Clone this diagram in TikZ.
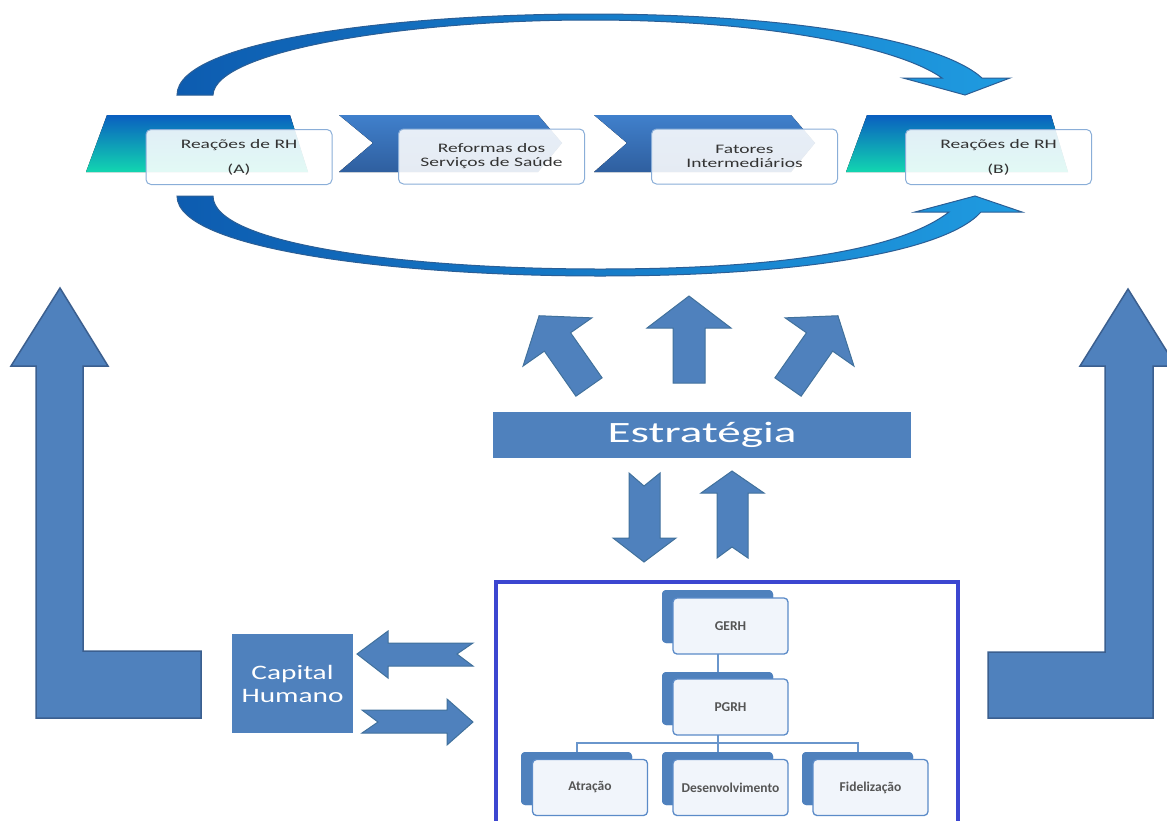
\documentclass[tikz,border=0pt]{standalone}
\usepackage{fontspec}
\setmainfont{Carlito}
\newfontfamily\topfont[FakeStretch=1.5]{Carlito}
\newfontfamily\estfont[FakeStretch=1.6]{Carlito}
\newfontfamily\capfont[FakeStretch=1.43]{Carlito}
\definecolor{mainblue}{HTML}{4F81BD}
\definecolor{edgeblue}{HTML}{3B5F8F}
\definecolor{smalledge}{HTML}{41719C}
\definecolor{boxedge}{HTML}{8AAED8}
\definecolor{orgedge}{HTML}{5B8BC8}
\definecolor{framecol}{HTML}{3C46D0}
\definecolor{textgray}{HTML}{333333}
\definecolor{orgtext}{HTML}{555555}
\definecolor{trapT}{HTML}{0A5FC0}
\definecolor{trapM}{HTML}{1E9FDF}
\definecolor{trapB}{HTML}{12D6B0}
\definecolor{chevT}{HTML}{4080CC}
\definecolor{chevB}{HTML}{2F5F9F}
\definecolor{curveL}{HTML}{0D5CB0}
\definecolor{curveR}{HTML}{1F9BE0}
\definecolor{curveedge}{HTML}{2B5E95}
\definecolor{orgfill}{HTML}{F1F5FB}
\definecolor{connblue}{HTML}{6A96CC}
\tikzset{
  bigarrow/.style={fill=mainblue, draw=edgeblue, line width=1.5pt, line join=miter},
  smallarrow/.style={fill=mainblue, draw=smalledge, line width=1pt, line join=miter},
  trapshape/.style={top color=trapT, middle color=trapM, bottom color=trapB},
  chevshape/.style={top color=chevT, bottom color=chevB},
  curvearrow/.style={left color=curveL, right color=curveR, draw=curveedge, line width=1pt},
  topbox/.style={draw=boxedge, line width=1pt, fill=white, fill opacity=0.88, text opacity=1,
     rounded corners=5pt, minimum width=186pt, minimum height=55pt, inner sep=0pt,
     align=center, text=textgray, font=\topfont\fontsize{13}{14}\selectfont},
  bluebar/.style={fill=mainblue, inner sep=0pt, text=white},
  backbox/.style={fill=mainblue, rounded corners=4pt, minimum width=111pt, minimum height=53pt, inner sep=0pt},
  frontbox/.style={fill=orgfill, draw=orgedge, line width=1.3pt, rounded corners=4pt,
     minimum width=115pt, minimum height=56pt, inner sep=0pt, text=orgtext,
     font=\bfseries\fontsize{13.5}{15}\selectfont},
  conn/.style={draw=connblue, line width=2pt},
  uparrow/.pic={\draw[smallarrow] (-16,0) -- (-16,-55) -- (-42,-55) -- (0,-87) -- (42,-55) -- (16,-55) -- (16,0) -- cycle;}
}
\begin{document}
\begin{tikzpicture}[x=1pt,y=-1pt]
\useasboundingbox (0,0) rectangle (1167,820);
\clip (0,0) rectangle (1167,820);

% curved arrows
\path[curvearrow] (177,95) .. controls (177,40) and (400,14) .. (590,14)
  .. controls (790,14) and (940,40) .. (982,78)
  -- (1010,78) -- (965,95) -- (903,78) -- (942,78)
  .. controls (900,48) and (770,20) .. (590,20)
  .. controls (410,20) and (215,50) .. (213,95) -- cycle;
\path[curvearrow] (177,196) .. controls (177,250) and (400,276) .. (600,276)
  .. controls (800,276) and (945,252) .. (981,212)
  -- (1022,212) -- (975,196) -- (915,212) -- (949,212)
  .. controls (900,250) and (780,269) .. (600,269)
  .. controls (410,269) and (213,245) .. (213,196) -- cycle;

% process shapes
\fill[trapshape] (107,115) -- (290,115) -- (308,172) -- (86,172) -- cycle;
\fill[chevshape] (339,115) -- (538,115) -- (562,143) -- (538,172) -- (339,172) -- (373,143) -- cycle;
\fill[chevshape] (594,115) -- (791,115) -- (815,143) -- (791,172) -- (594,172) -- (627,143) -- cycle;
\fill[trapshape] (867,115) -- (1051,115) -- (1068,172) -- (846,172) -- cycle;

\node[topbox] (rhA) at (239,157) {Reações de RH\\[11pt](A)};
\node[topbox] (ref) at (491.5,156.5) {Reformas dos\\Serviços de Saúde};
\node[topbox] (fat) at (744.5,156.5) {Fatores\\Intermediários};
\node[topbox] (rhB) at (998.5,157) {Reações de RH\\[11pt](B)};

% big L arrows
\draw[bigarrow] (36,718) -- (201,718) -- (201,651) -- (83,651) -- (83,366) -- (108,366)
  -- (60,288) -- (11,366) -- (36,366) -- cycle;
\draw[bigarrow] (988,652) -- (1105,652) -- (1105,366) -- (1080,366) -- (1128,289)
  -- (1176,366) -- (1153,366) -- (1153,718) -- (988,718) -- cycle;

% strategy
\node[bluebar, minimum width=418pt, minimum height=46pt,
  font=\estfont\fontsize{29.5}{32}\selectfont] (est) at (702,435) {Estratégia};
\pic[rotate=35] at (589,387) {uparrow};
\pic at (689,383) {uparrow};
\pic[rotate=-35] at (788,387) {uparrow};

\draw[smallarrow] (629,473) -- (644,486) -- (660,473) -- (660,538) -- (676,538)
  -- (644,562) -- (613,538) -- (629,538) -- cycle;
\draw[smallarrow] (732,471) -- (764,493) -- (748,493) -- (748,558) -- (732,547)
  -- (717,558) -- (717,493) -- (701,493) -- cycle;

% capital humano
\node[bluebar, minimum width=121pt, minimum height=99pt, align=center,
  font=\capfont\fontsize{20.5}{23}\selectfont] (cap) at (292.5,683.5) {Capital\\Humano};
\draw[smallarrow] (357,654) -- (388,631) -- (388,643) -- (473,643) -- (457,654)
  -- (473,666) -- (388,666) -- (388,678) -- cycle;
\draw[smallarrow] (473,722) -- (447,699) -- (447,710) -- (362,710) -- (378,722)
  -- (362,733) -- (447,733) -- (447,745) -- cycle;

% frame
\draw[framecol, line width=4pt] (496,582) rectangle (958,840);

% org chart
\node[backbox] (gerhB) at (717.5,616.5) {};
\node[backbox] (pgrhB) at (717.5,698.5) {};
\node[backbox] (atrB) at (576.5,778.5) {};
\node[backbox] (desB) at (717.5,778.5) {};
\node[backbox] (fidB) at (857.5,778.5) {};
\coordinate (tj) at (717.5,743);
\draw[conn] (gerhB.center) -- (pgrhB.center);
\draw[conn] (pgrhB.center) -- (tj);
\draw[conn] (atrB.north) |- (tj) -| (fidB.north);
\draw[conn] (tj) -- (desB.north);
\node[backbox] at (gerhB) {};
\node[backbox] at (pgrhB) {};
\node[backbox] at (atrB) {};
\node[backbox] at (desB) {};
\node[backbox] at (fidB) {};
\node[frontbox] (gerh) at (730.5,626) {GERH};
\node[frontbox] (pgrh) at (730.5,707) {PGRH};
\node[frontbox] (atr) at (590,787.5) {Atração};
\node[frontbox] (des) at (730.5,787.5) {Desenvolvimento};
\node[frontbox] (fid) at (870.5,787.5) {Fidelização};
\end{tikzpicture}
\end{document}
